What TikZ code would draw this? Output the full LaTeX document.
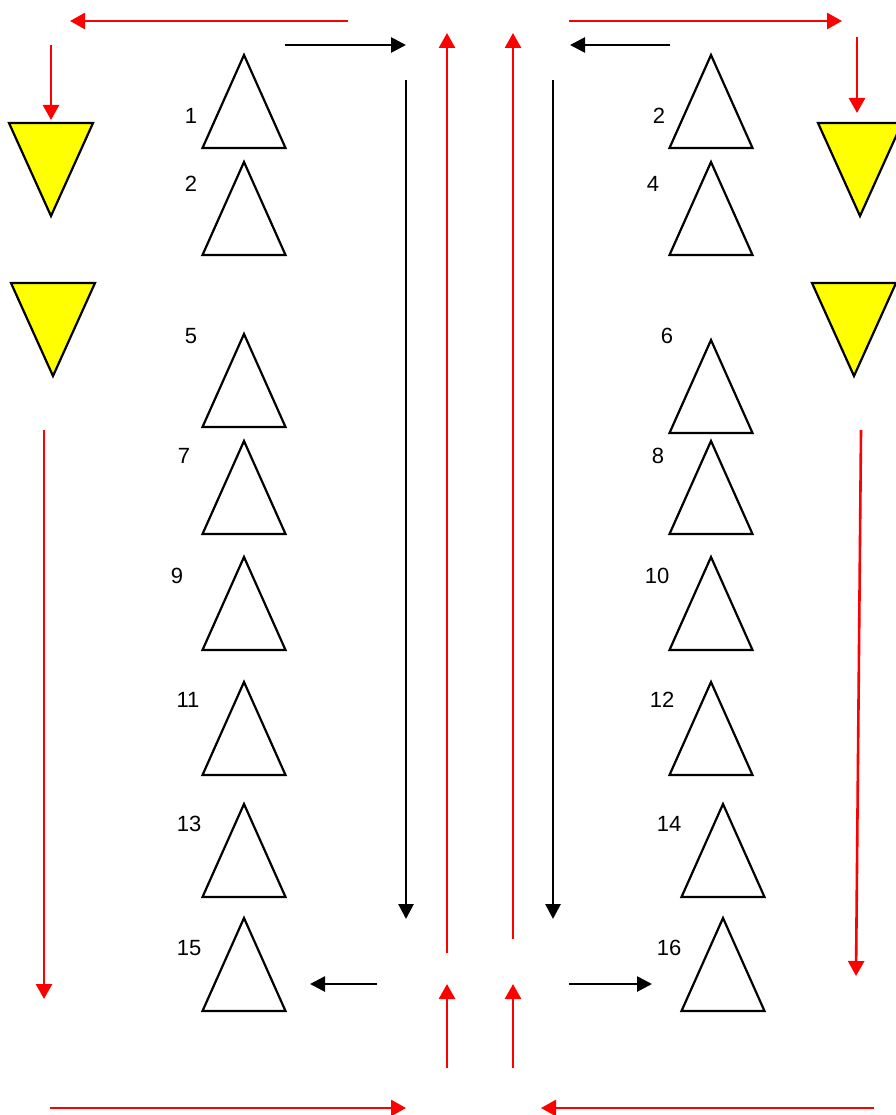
\documentclass[tikz,border=0pt]{standalone}
\usepackage{fontspec}
\setmainfont{Liberation Sans}
\usetikzlibrary{arrows.meta}
\definecolor{pureyellow}{RGB}{255,255,0}
\definecolor{purered}{RGB}{255,0,0}
\begin{document}
\begin{tikzpicture}[x=1pt,y=-1pt,
  redarrow/.style={draw=purered,line width=2.6pt,-{Triangle[length=15pt,width=16pt]}},
  blackarrow/.style={draw=black,line width=2.7pt,-{Triangle[length=15pt,width=15pt]}},
  lbl/.style={font=\fontsize{22}{26}\selectfont,inner sep=0pt,anchor=center},
  tri/.pic={\draw[line width=2.2pt,line join=miter] (-41.5,93) -- (0,0) -- (41.5,93) -- cycle;},
  ytri/.pic={\draw[line width=2.2pt,fill=pureyellow,line join=miter] (-42,0) -- (42,0) -- (0,93) -- cycle;}]
\useasboundingbox (0,0) rectangle (895,1115);
% white triangles, left column
\foreach \n/\y in {a1/55,a2/162,a5/334,a7/441,a9/557,a11/682,a13/804,a15/918}
  \pic (\n) at (244,\y) {tri};
% right column
\foreach \n/\x/\y in {b2/711/55,b4/711/162,b6/711/340,b8/711/441,b10/711/557,b12/711/682,b14/723/804,b16/723/918}
  \pic (\n) at (\x,\y) {tri};
% yellow triangles
\pic (y1) at (51,123) {ytri};
\pic (y2) at (53,283) {ytri};
\pic (y3) at (860,123) {ytri};
\pic (y4) at (854,283) {ytri};
% labels
\node[lbl] (l1) at (191,116) {1};
\node[lbl] (l2) at (191,184) {2};
\node[lbl] (l5) at (191,336) {5};
\node[lbl] (l7) at (184,456) {7};
\node[lbl] (l9) at (177,576) {9};
\node[lbl] (l11) at (188,700) {11};
\node[lbl] (l13) at (189,824) {13};
\node[lbl] (l15) at (189,948) {15};
\node[lbl] (r2) at (659,116) {2};
\node[lbl] (r4) at (653,184) {4};
\node[lbl] (r6) at (667,336) {6};
\node[lbl] (r8) at (658,456) {8};
\node[lbl] (r10) at (657,576) {10};
\node[lbl] (r12) at (662,700) {12};
\node[lbl] (r14) at (669,824) {14};
\node[lbl] (r16) at (669,948) {16};
% arrow end points
\coordinate (tl1) at (348,21); \coordinate (tl2) at (70,21);
\coordinate (ld1) at (51,45); \coordinate (ld2) at (51,120);
\coordinate (tr1) at (569,21); \coordinate (tr2) at (842,21);
\coordinate (rd1) at (857,37); \coordinate (rd2) at (857,113);
\coordinate (bk1) at (285,45); \coordinate (bk2) at (406,45);
\coordinate (bk3) at (670,45); \coordinate (bk4) at (570,45);
\coordinate (vl1) at (406,80); \coordinate (vl2) at (406,919);
\coordinate (vr1) at (553,80); \coordinate (vr2) at (553,919);
\coordinate (ru1) at (447,953); \coordinate (ru2) at (447,33);
\coordinate (ru3) at (513,939); \coordinate (ru4) at (513,33);
\coordinate (ll1) at (44,430); \coordinate (ll2) at (44,999);
\coordinate (rl1) at (861,430); \coordinate (rl2) at (856,976);
\coordinate (bl1) at (377,984); \coordinate (bl2) at (310,984);
\coordinate (br1) at (569,984); \coordinate (br2) at (652,984);
\coordinate (su1) at (447,1068); \coordinate (su2) at (447,984);
\coordinate (su3) at (513,1068); \coordinate (su4) at (513,984);
\coordinate (bb1) at (50,1108); \coordinate (bb2) at (406,1108);
\coordinate (bb3) at (874,1108); \coordinate (bb4) at (541,1108);
% arrows
\draw[redarrow] (tl1) -- (tl2);
\draw[redarrow] (ld1) -- (ld2);
\draw[redarrow] (tr1) -- (tr2);
\draw[redarrow] (rd1) -- (rd2);
\draw[blackarrow] (bk1) -- (bk2);
\draw[blackarrow] (bk3) -- (bk4);
\draw[blackarrow] (vl1) -- (vl2);
\draw[blackarrow] (vr1) -- (vr2);
\draw[redarrow] (ru1) -- (ru2);
\draw[redarrow] (ru3) -- (ru4);
\draw[redarrow] (ll1) -- (ll2);
\draw[redarrow] (rl1) -- (rl2);
\draw[blackarrow] (bl1) -- (bl2);
\draw[blackarrow] (br1) -- (br2);
\draw[redarrow] (su1) -- (su2);
\draw[redarrow] (su3) -- (su4);
\draw[redarrow] (bb1) -- (bb2);
\draw[redarrow] (bb3) -- (bb4);
\end{tikzpicture}
\end{document}
